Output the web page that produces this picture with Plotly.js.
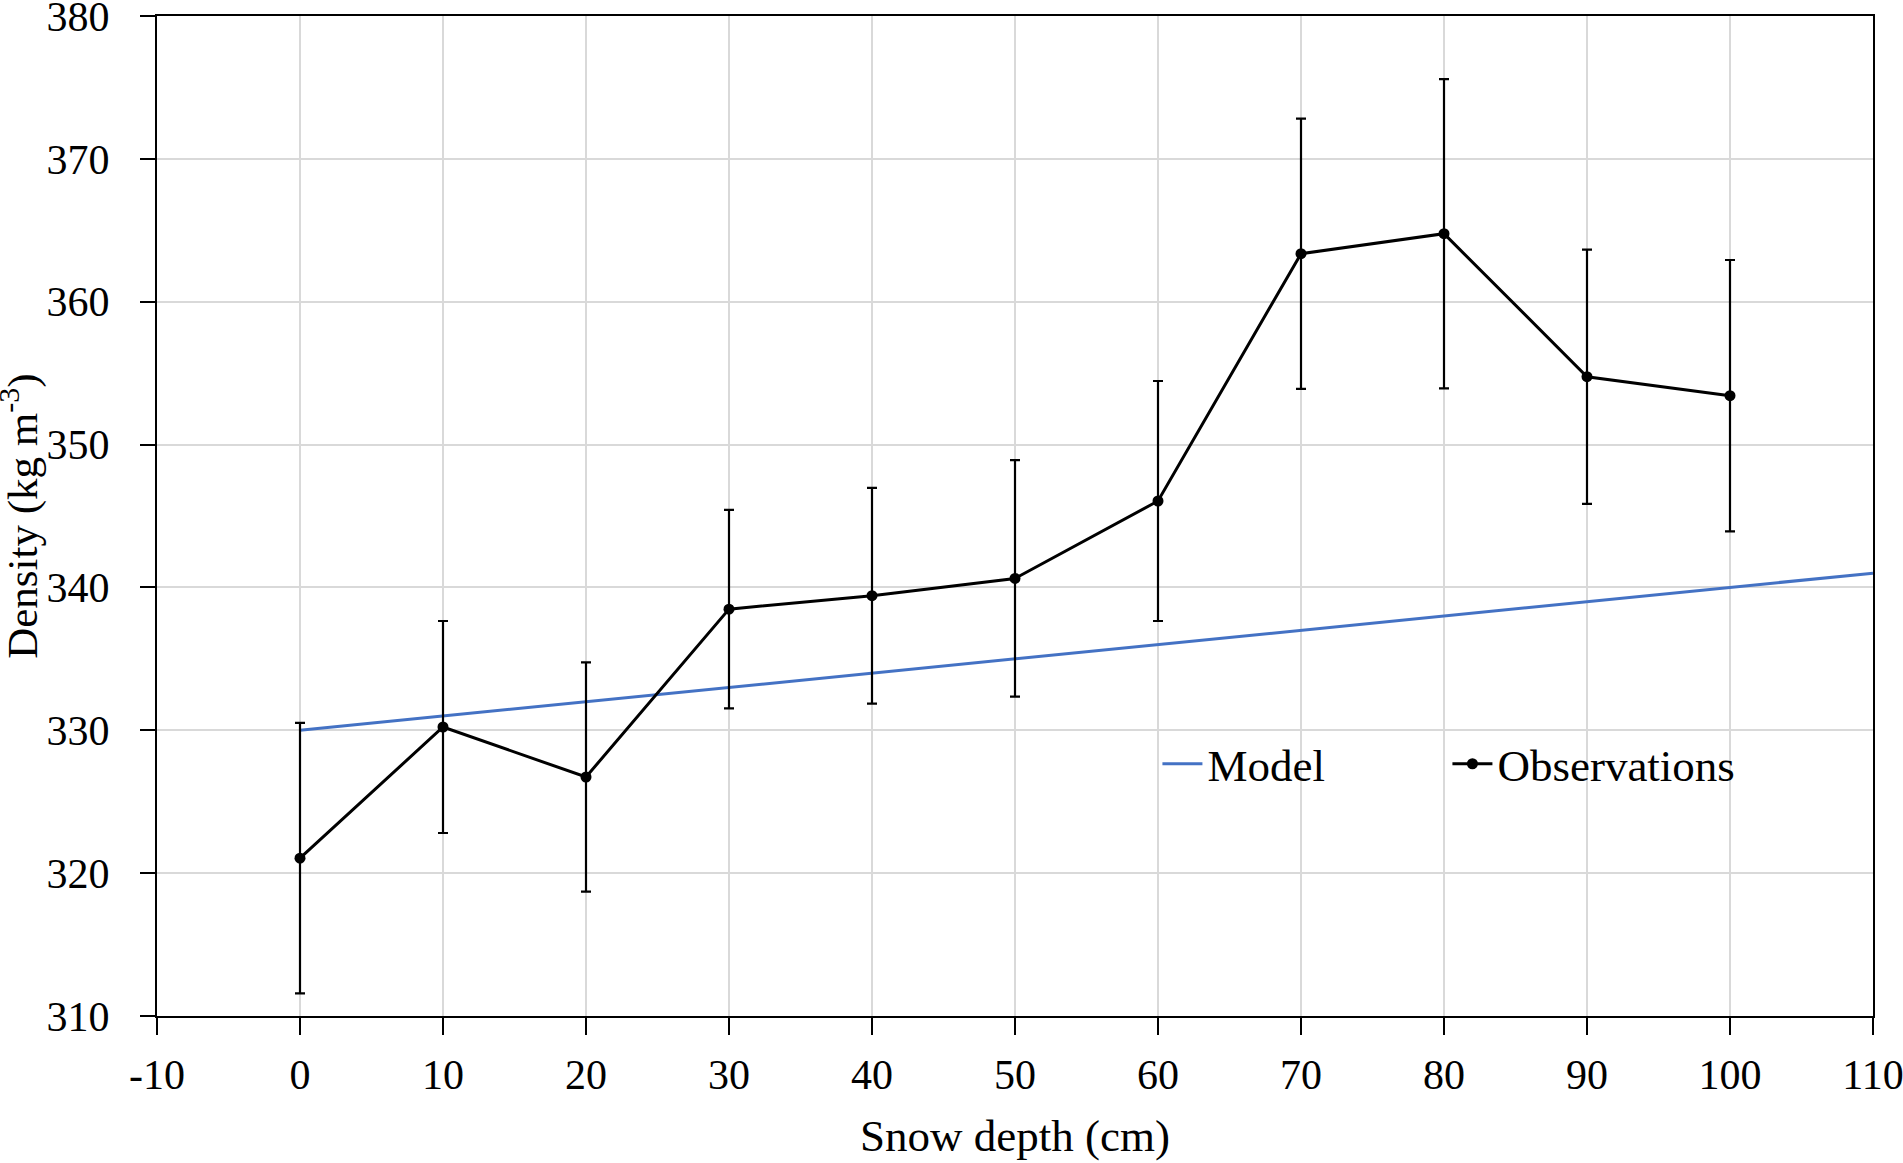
<!DOCTYPE html>
<html>
<head>
<meta charset="utf-8">
<script src="https://cdn.plot.ly/plotly-3.0.1.min.js"></script>
<style>html,body{margin:0;padding:0;background:#fff;}#chart{width:1903px;height:1163px;}</style>
</head>
<body>
<div id="chart"></div>
<script>
// Data
const depth = [0, 10, 20, 30, 40, 50, 60, 70, 80, 90, 100];
const observed = [321.05, 330.23, 326.73, 338.48, 339.42, 340.63, 346.05, 363.36, 364.76, 354.75, 353.42];
const obsError = [9.47, 7.42, 8.03, 6.95, 7.55, 8.28, 8.40, 9.46, 10.82, 8.90, 9.50];
const modelDepth = [0, 10, 20, 30, 40, 50, 60, 70, 80, 90, 100, 110];
const modelDensity = [330, 331, 332, 333, 334, 335, 336, 337, 338, 339, 340, 341];
const xTicks = [-10, 0, 10, 20, 30, 40, 50, 60, 70, 80, 90, 100, 110];
const yTicks = [310, 320, 330, 340, 350, 360, 370, 380];
const xTitle = 'Snow depth (cm)';
const yTitle = 'Density (kg m<sup>-3</sup>)';

const FONT = "'Liberation Serif', 'Times New Roman', serif";

const traces = [
  {
    x: modelDepth, y: modelDensity, name: 'Model', type: 'scatter', mode: 'lines',
    line: {color: '#4472C4', width: 3}
  },
  {
    x: depth, y: observed, name: 'Observations', type: 'scatter', mode: 'lines+markers',
    line: {color: '#000000', width: 3},
    marker: {color: '#000000', size: 11},
    error_y: {type: 'data', array: obsError, visible: true, color: '#000000', thickness: 2.2, width: 5}
  }
];

const layout = {
  width: 1903, height: 1163,
  paper_bgcolor: '#ffffff', plot_bgcolor: '#ffffff',
  margin: {l: 157, r: 30, t: 16, b: 147, pad: 0},
  font: {family: FONT, size: 42, color: '#000000'},
  showlegend: true,
  legend: {
    orientation: 'h', x: 0.583, y: 0.252, xanchor: 'left', yanchor: 'middle',
    font: {family: FONT, size: 45, color: '#000'}, bgcolor: 'rgba(0,0,0,0)',
    itemwidth: 40, traceorder: 'normal', entrywidth: 235, entrywidthmode: 'pixels'
  },
  xaxis: {
    range: [-10, 110], tickmode: 'array', tickvals: xTicks, ticktext: xTicks.map(String),
    showgrid: true, gridcolor: '#d9d9d9', gridwidth: 2,
    showline: true, linecolor: '#000', linewidth: 2, mirror: true,
    ticks: 'outside', ticklen: 17, tickwidth: 2, tickcolor: '#000',
    ticklabelstandoff: 4, ticklabeloverflow: 'allow', zeroline: false, automargin: false,
    tickfont: {family: FONT, size: 42, color: '#000'},
    title: {text: xTitle, font: {family: FONT, size: 45, color: '#000'}, standoff: 22}
  },
  yaxis: {
    range: [310, 380], tickmode: 'array', tickvals: yTicks, ticktext: yTicks.map(String),
    showgrid: true, gridcolor: '#d9d9d9', gridwidth: 2,
    showline: true, linecolor: '#000', linewidth: 2, mirror: true,
    ticks: 'outside', ticklen: 15, tickwidth: 2, tickcolor: '#000',
    ticklabelstandoff: 22, ticklabeloverflow: 'allow', zeroline: false, automargin: false,
    tickfont: {family: FONT, size: 42, color: '#000'}
  },
  annotations: [{
    text: yTitle, textangle: -90, showarrow: false,
    xref: 'paper', yref: 'paper', x: -0.0805, y: 0.5, xanchor: 'center', yanchor: 'middle',
    font: {family: FONT, size: 43, color: '#000'}
  }]
};

Plotly.newPlot('chart', traces, layout, {displayModeBar: false, staticPlot: true});
</script>
</body>
</html>
